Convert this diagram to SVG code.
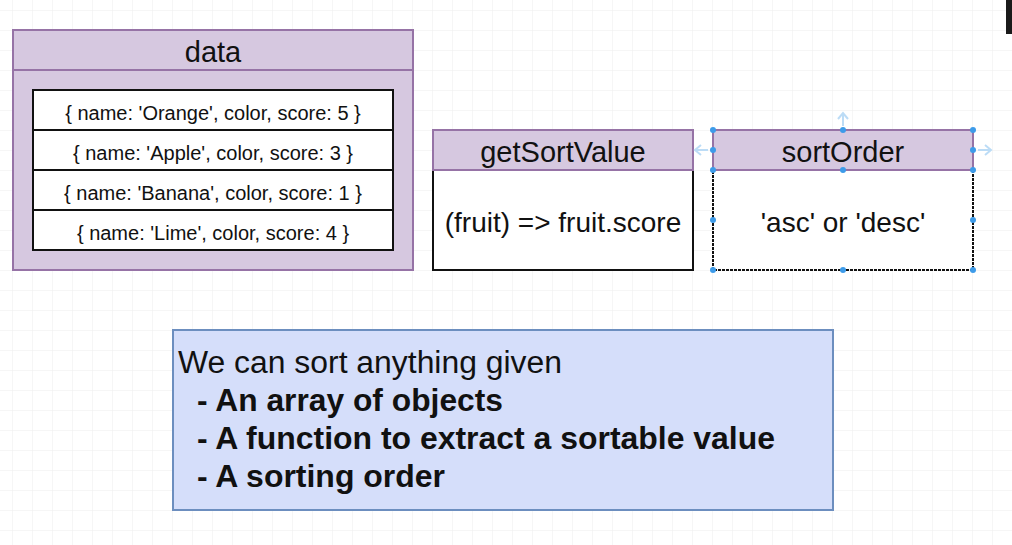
<svg xmlns="http://www.w3.org/2000/svg" width="1012" height="545" viewBox="0 0 1012 545">
<defs>
<pattern id="grid" x="12" y="10" width="20" height="20" patternUnits="userSpaceOnUse">
<path d="M0 0H20M0 0V20" fill="none" stroke="#ededed" stroke-width="1"/>
</pattern>
<style>
.hdr{fill:#d6c8e0;stroke:#9673a6;stroke-width:2}
.body{fill:#ffffff;stroke:#111;stroke-width:2}
.row{fill:#ffffff;stroke:#111;stroke-width:2}
.t{font-family:"Liberation Sans",Arial,sans-serif;fill:#111;text-anchor:middle}
.title{font-size:29px}
.rowt{font-size:20px}
.big{font-size:28px}
.note{font-family:"Liberation Sans",Arial,sans-serif;fill:#111;font-size:31px}
.nb{font-weight:bold}
.h{fill:#3d9be9}
.ar{fill:none;stroke:#bcdcf6;stroke-width:2}
</style>
</defs>
<rect width="1012" height="545" fill="#fff"/>
<rect width="1012" height="545" fill="url(#grid)"/>
<rect x="1006" y="0" width="6" height="34" fill="#1a1a1a"/>

<g id="data">
<rect x="13" y="30" width="400" height="240" class="hdr"/>
<line x1="13" y1="70" x2="413" y2="70" stroke="#9673a6" stroke-width="2"/>
<text x="213" y="62" class="t title">data</text>
<rect x="33" y="90" width="360" height="40" class="row"/>
<rect x="33" y="130" width="360" height="40" class="row"/>
<rect x="33" y="170" width="360" height="40" class="row"/>
<rect x="33" y="210" width="360" height="40" class="row"/>
<text x="213" y="120" class="t rowt">{ name: 'Orange', color, score: 5 }</text>
<text x="213" y="160" class="t rowt">{ name: 'Apple', color, score: 3 }</text>
<text x="213" y="200" class="t rowt">{ name: 'Banana', color, score: 1 }</text>
<text x="213" y="240" class="t rowt">{ name: 'Lime', color, score: 4 }</text>
</g>

<g id="getSortValue">
<rect x="433" y="170" width="260" height="100" class="body"/>
<rect x="433" y="130" width="260" height="40" class="hdr"/>
<text x="563" y="162" class="t title">getSortValue</text>
<text x="563" y="232" class="t big">(fruit) =&gt; fruit.score</text>
</g>

<g id="sortOrder">
<rect x="713" y="170" width="260" height="100" class="body" stroke-dasharray="3 1"/>
<rect x="713" y="130" width="260" height="40" class="hdr"/>
<text x="843" y="162" class="t title">sortOrder</text>
<text x="843" y="232" class="t big">'asc' or 'desc'</text>
<g id="selection">
<path class="ar" d="M843 126V114M838 119L843 113L848 119"/>
<path class="ar" d="M708 150H696M701 145L695 150L701 155"/>
<path class="ar" d="M978 150H990M985 145L991 150L985 155"/>
<circle class="h" cx="713" cy="130" r="3"/><circle class="h" cx="843" cy="130" r="3"/><circle class="h" cx="973" cy="130" r="3"/>
<circle class="h" cx="713" cy="150" r="3"/><circle class="h" cx="973" cy="150" r="3"/>
<circle class="h" cx="713" cy="170" r="3"/><circle class="h" cx="843" cy="170" r="3"/><circle class="h" cx="973" cy="170" r="3"/>
<circle class="h" cx="713" cy="220" r="3"/><circle class="h" cx="973" cy="220" r="3"/>
<circle class="h" cx="713" cy="270" r="3"/><circle class="h" cx="843" cy="270" r="3"/><circle class="h" cx="973" cy="270" r="3"/>
</g>
</g>

<g id="note">
<rect x="173" y="330" width="660" height="180" fill="#d5defa" stroke="#6c8ebf" stroke-width="2"/>
<text x="178" y="373" class="note" textLength="384" lengthAdjust="spacingAndGlyphs">We can sort anything given</text>
<text x="197" y="411" class="note nb" textLength="306" lengthAdjust="spacingAndGlyphs">- An array of objects</text>
<text x="197" y="449" class="note nb" textLength="578" lengthAdjust="spacingAndGlyphs">- A function to extract a sortable value</text>
<text x="197" y="487" class="note nb" textLength="248" lengthAdjust="spacingAndGlyphs">- A sorting order</text>
</g>

<g id="connectors"></g>
</svg>
